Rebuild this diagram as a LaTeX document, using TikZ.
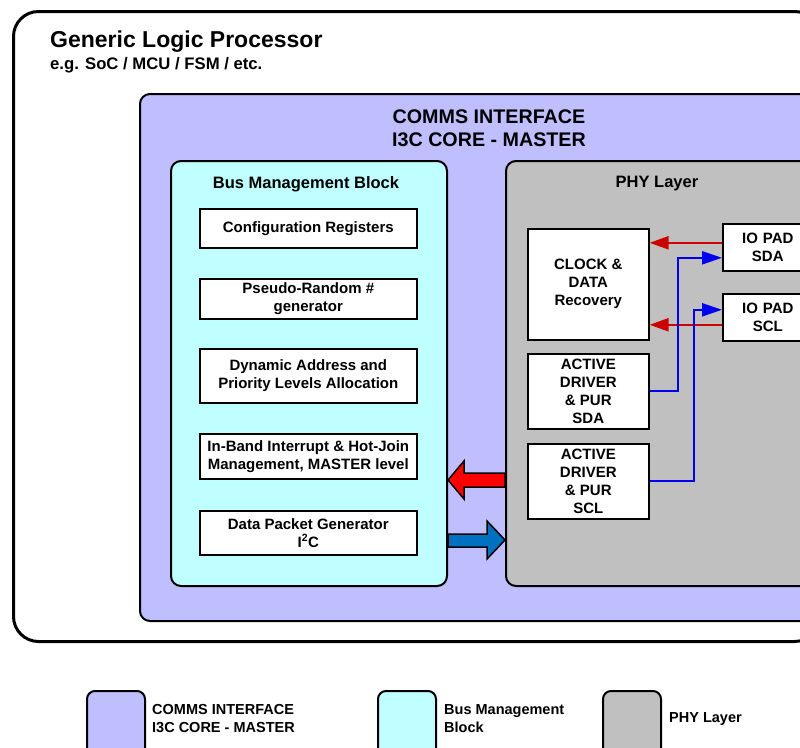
\documentclass[tikz,border=0pt]{standalone}
\usepackage{fontspec}
\setmainfont{Liberation Sans}
\usetikzlibrary{arrows.meta}
\definecolor{lav}{HTML}{BFBFFF}
\definecolor{cyanl}{HTML}{BFFFFF}
\definecolor{phyg}{HTML}{C0C0C0}
\definecolor{bigblue}{HTML}{0070C0}
\definecolor{lred}{HTML}{CC0000}
\definecolor{lblue}{HTML}{0000EE}
\newcommand{\fs}[2]{\fontsize{#1}{#2}\selectfont}
\begin{document}
\begin{tikzpicture}[x=1pt,y=-1pt,
  container/.style={draw=black, line width=2pt, rounded corners=10pt, anchor=north west, inner sep=0pt},
  whitebox/.style={draw=black, line width=1.6pt, fill=white, anchor=north west, inner sep=0pt, align=center, font=\bfseries\fs{15}{18}},
  redline/.style={draw=lred, line width=2.2pt, -{Triangle[length=19pt,width=13pt]}},
  blueline/.style={draw=lblue, line width=2.2pt, -{Triangle[length=20pt,width=13pt]}},
  bigarrow/.style={draw=black, line width=1.5pt, line join=miter},
  legbox/.style={draw=black, line width=2pt, rounded corners=8pt, anchor=north west, inner sep=0pt, minimum width=58pt, minimum height=70pt},
  legtext/.style={anchor=west, align=left, font=\bfseries\fs{14.5}{18}, inner sep=0pt}
]
\clip (0,0) rectangle (800,747);
\fill[white] (0,0) rectangle (800,747);

% outer processor box
\node[draw=black, line width=3pt, rounded corners=25pt, anchor=north west, minimum width=806pt, minimum height=630pt, inner sep=0pt] (glp) at (12,10) {};
\node[anchor=base west, font=\bfseries\fs{23}{28}, inner sep=0pt] (glpt) at (50,47) {Generic Logic Processor};
\node[anchor=base west, font=\bfseries\fs{16.7}{20}, inner sep=0pt] (glps) at (50,69.5) {e.g. SoC / MCU / FSM / etc.};

% comms interface
\node[container, fill=lav, minimum width=700pt, minimum height=527pt] (comms) at (139,93) {};
\node[align=center, font=\bfseries\fs{19.7}{23.5}, inner sep=0pt] (commst) at (489,128) {COMMS INTERFACE\\I3C CORE - MASTER};

% bus management block
\node[container, fill=cyanl, minimum width=276pt, minimum height=425pt] (bus) at (170,160) {};
\node[font=\bfseries\fs{16.5}{20}, inner sep=0pt] (bust) at (306,184) {Bus Management Block};
\node[whitebox, minimum width=217pt, minimum height=39pt] (cfg) at (199,208) {Configuration Registers};
\node[whitebox, minimum width=217pt, minimum height=40pt] (prng) at (199,278) {Pseudo-Random \#\\generator};
\node[whitebox, minimum width=217pt, minimum height=54pt] (dyn) at (199,348) {Dynamic Address and\\Priority Levels Allocation};
\node[whitebox, minimum width=217pt, minimum height=45pt] (ibi) at (199,433) {In-Band Interrupt \& Hot-Join\\Management, MASTER level};
\node[whitebox, minimum width=217pt, minimum height=44pt] (dpg) at (199,510) {Data Packet Generator\\I\textsuperscript{2}C};

% PHY layer
\node[container, fill=phyg, minimum width=340pt, minimum height=425pt] (phy) at (505,160) {};
\node[font=\bfseries\fs{16.5}{20}, inner sep=0pt] (phyt) at (657,184) {PHY Layer};
\node[whitebox, minimum width=121pt, minimum height=111pt] (clk) at (527,228) {CLOCK \&\\DATA\\Recovery};
\node[whitebox, minimum width=121pt, minimum height=75pt] (drvsda) at (527,353) {ACTIVE\\DRIVER\\\& PUR\\SDA};
\node[whitebox, minimum width=121pt, minimum height=75pt] (drvscl) at (527,443) {ACTIVE\\DRIVER\\\& PUR\\SCL};
\node[whitebox, minimum width=90pt, minimum height=47pt, text width=90pt] (iosda) at (722,223) {IO PAD\\SDA};
\node[whitebox, minimum width=90pt, minimum height=47pt, text width=90pt] (ioscl) at (722,293) {IO PAD\\SCL};

% signal connectors
\coordinate (sdaout) at ([yshift=4.5pt]iosda.west);
\coordinate (sdain) at ([yshift=-10.5pt]iosda.west);
\coordinate (sclout) at ([yshift=-7.5pt]ioscl.west);
\coordinate (sclin) at ([yshift=7.5pt]ioscl.west);
\draw[redline] (sdaout) -- (clk.east |- sdaout);
\draw[redline] (sclout) -- (clk.east |- sclout);
\draw[blueline] (drvsda.east) -- ++(28,0) |- (sdain);
\draw[blueline] (drvscl.east) -- ++(44,0) |- (sclin);

% big arrows between blocks
\coordinate (rt) at (bus.east |- 0,480);
\coordinate (bt) at (phy.west |- 0,540);
\draw[bigarrow, fill=red] (phy.west |- 0,473) -- (464,473) -- (464,461) -- (rt) -- (464,499) -- (464,487) -- (phy.west |- 0,487) -- cycle;
\draw[bigarrow, fill=bigblue] (bus.east |- 0,534) -- (487,534) -- (487,521) -- (bt) -- (487,559) -- (487,547) -- (bus.east |- 0,547) -- cycle;

% legend
\node[legbox, fill=lav] (leg1) at (86,690) {};
\node[legtext] (leg1t) at (152,719) {COMMS INTERFACE\\I3C CORE - MASTER};
\node[legbox, fill=cyanl] (leg2) at (377,690) {};
\node[legtext] (leg2t) at (444,719) {Bus Management\\Block};
\node[legbox, fill=phyg] (leg3) at (602,690) {};
\node[legtext] (leg3t) at (669,719) {PHY Layer};
\end{tikzpicture}
\end{document}
